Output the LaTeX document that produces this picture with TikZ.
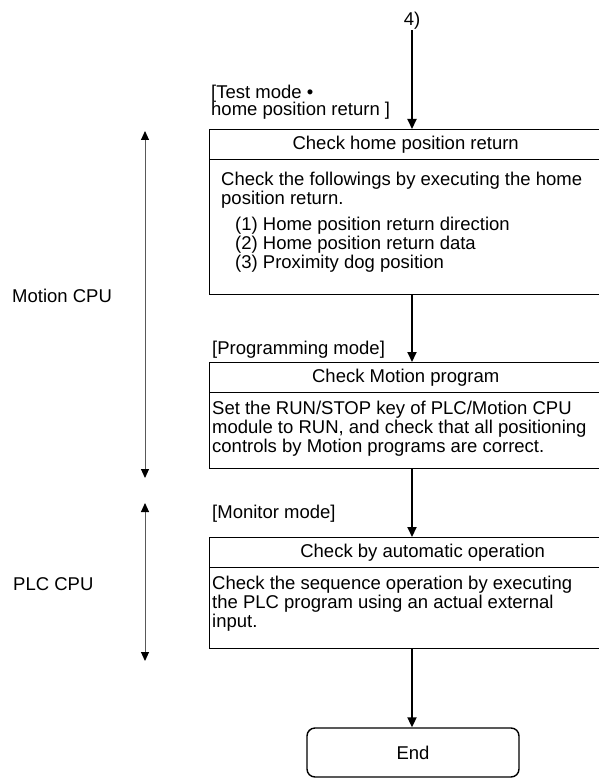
\documentclass[tikz,border=0pt]{standalone}
\usepackage{fontspec}
\setmainfont{Liberation Sans}
\usetikzlibrary{arrows.meta, positioning}

\tikzset{
  box/.style={draw, line width=1.4pt, minimum width=392pt, anchor=north west, inner sep=0pt},
  flow/.style={line width=2pt, -{Triangle[width=9pt,length=10pt]}},
  span/.style={line width=1pt, black!65, {Triangle[width=8pt,length=9pt,color=black]}-{Triangle[width=8pt,length=9pt,color=black]}},
  txt/.style={inner sep=0pt, font=\fontsize{18.5}{19}\selectfont},
  lbl/.style={txt, anchor=base west},
  body/.style={txt, anchor=north west, align=left},
}

\begin{document}
\begin{tikzpicture}[x=1pt, y=-1pt]
\useasboundingbox (0,0) rectangle (598,778);

% Entry point
\node[txt, anchor=base] (four) at (412,26) {4)};

% Check home position return
\node[lbl] (mode1a) at (211,99) {[Test mode •};
\node[lbl] (mode1b) at (211,116) {home position return ]};
\node[box, txt, minimum height=30pt] (h1) at (209,129) {Check home position return};
\node[box, minimum height=135pt] (b1) at (209,159) {};
\node[body] (d1) at (221,172) {Check the followings by executing the home\\
  position return.\\[7pt]
  \hspace*{14pt}(1) Home position return direction\\
  \hspace*{14pt}(2) Home position return data\\
  \hspace*{14pt}(3) Proximity dog position};

% Check Motion program
\node[lbl] (mode2) at (212,354) {[Programming mode]};
\node[box, txt, minimum height=30pt] (h2) at (209,362) {Check Motion program};
\node[box, minimum height=76pt] (b2) at (209,392) {};
\node[body] (d2) at (212,401) {Set the RUN/STOP key of PLC/Motion CPU\\
  module to RUN, and check that all positioning\\
  controls by Motion programs are correct.};

% Check by automatic operation
\node[lbl] (mode3) at (212,518) {[Monitor mode]};
\node[box, txt, minimum height=30pt] (h3) at (209,537) {\hspace*{34pt}Check by automatic operation};
\node[box, minimum height=81pt] (b3) at (209,567) {};
\node[body] (d3) at (212,576) {Check the sequence operation by executing\\
  the PLC program using an actual external\\
  input.};

% End
\node[draw, txt, line width=1.4pt, rounded corners=8pt, minimum width=212pt, minimum height=49pt] (end) at (413,752.5) {End};

% Flow arrows
\draw[flow] (four.south) -- (four.south |- h1.north);
\draw[flow] (four.south |- b1.south) -- (four.south |- h2.north);
\draw[flow] (four.south |- b2.south) -- (four.south |- h3.north);
\draw[flow] (four.south |- b3.south) -- (four.south |- end.north);

% CPU ranges
\coordinate (mtop) at (145,131);
\coordinate (mbot) at (145,478);
\coordinate (ptop) at (145,503);
\coordinate (pbot) at (145,661);
\draw[span] (mtop) -- (mbot);
\draw[span] (ptop) -- (pbot);
\node[lbl] (motion) at (12,302) {Motion CPU};
\node[lbl] (plc) at (13,590) {PLC CPU};
\end{tikzpicture}
\end{document}
